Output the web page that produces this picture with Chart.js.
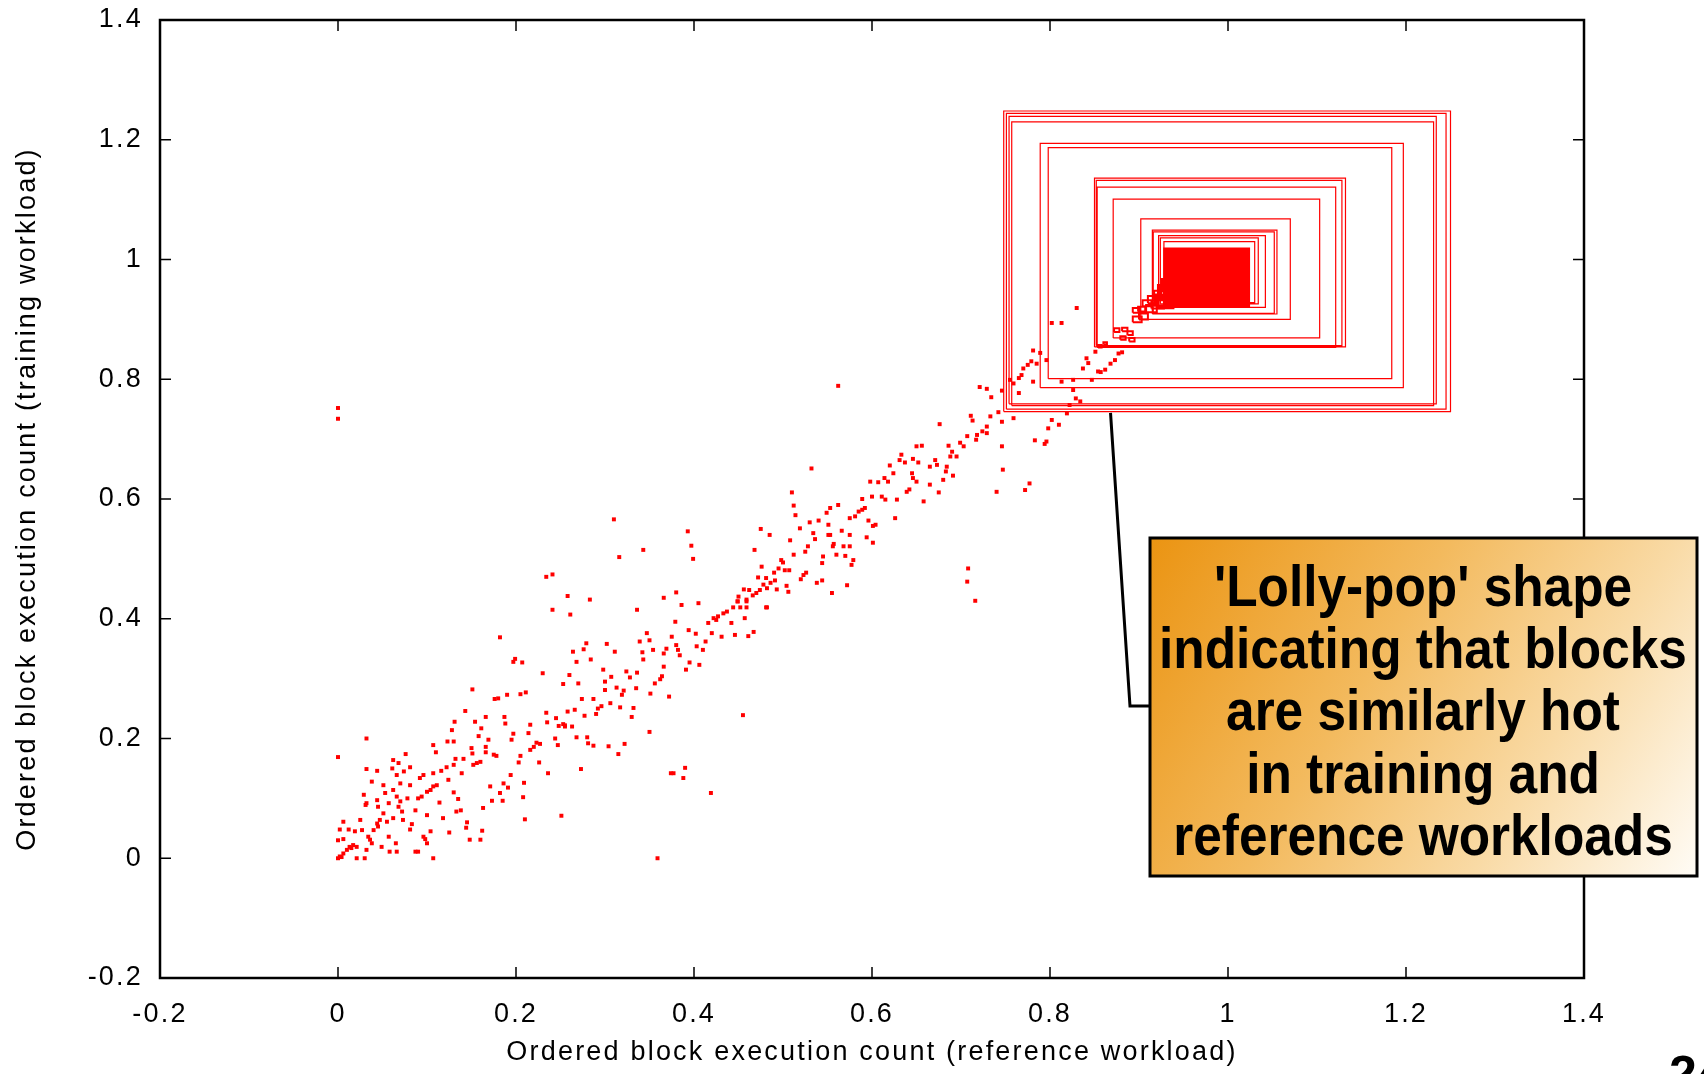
<!DOCTYPE html>
<html>
<head>
<meta charset="utf-8">
<script src="https://cdn.jsdelivr.net/npm/chart.js@4.4.1/dist/chart.umd.min.js"></script>
<style>
html, body { margin: 0; padding: 0; background: #fff; overflow: hidden; }
</style>
</head>
<body>
<canvas id="chart" width="1704" height="1074"></canvas>
<script>
// axes
const xTicks = [-0.2, 0, 0.2, 0.4, 0.6, 0.8, 1, 1.2, 1.4];
const yTicks = [-0.2, 0, 0.2, 0.4, 0.6, 0.8, 1, 1.2, 1.4];
const xTickLabels = ['-0.2', '0', '0.2', '0.4', '0.6', '0.8', '1', '1.2', '1.4'];
const yTickLabels = ['-0.2', '0', '0.2', '0.4', '0.6', '0.8', '1', '1.2', '1.4'];
const xTitle = 'Ordered block execution count (reference workload)';
const yTitle = 'Ordered block execution count (training workload)';

// [reference, training] per block
const blockPoints = [
  [0.002,0.003],[0.006,0.008],[0,0],[0.004,0.002],[0.01,0.014],[0.013,0.019],[0.017,0.022],[0.021,0.019],[0.015,0.017],
  [0.006,0.032],[0,0.03],[0.002,0.048],[0.006,0.061],[0.012,0.048],[0,0.169],
  [0.019,0.045],[0.025,0.064],[0.027,0.047],[0.031,0.089],[0.032,0.092],[0.029,0.106],[0.032,0.2],[0.032,0.014],[0.03,0],[0.021,0],
  [0.034,0.036],[0.036,0.031],[0.038,0.025],[0.04,0.047],[0.044,0.058],[0.047,0.064],[0.045,0.053],[0.044,0.097],[0.045,0.086],[0.044,0.146],[0.032,0.149],[0.038,0.128],
  [0.051,0.122],[0.053,0.109],[0.057,0.092],[0.051,0.075],[0.055,0.061],[0.057,0.036],[0.049,0.019],[0.058,0.011],[0.066,0.011],[0.065,0.025],
  [0.062,0.164],[0.068,0.159],[0.061,0.15],[0.066,0.139],[0.07,0.125],[0.062,0.114],[0.066,0.103],[0.07,0.095],[0.068,0.086],[0.072,0.078],[0.073,0.064],[0.062,0.067],
  [0.076,0.174],[0.074,0.145],[0.081,0.152],[0.081,0.122],[0.078,0.1],[0.081,0.048],[0.083,0.057],[0.087,0.08],[0.087,0.011],[0.09,0.011],
  [0.092,0.134],[0.096,0.139],[0.09,0.1],[0.094,0.103],[0.1,0.072],[0.096,0.036],[0.098,0.032],[0.1,0.025],[0.104,0.045],[0.107,0],[0.1,0.111],[0.104,0.114],[0.107,0.12],[0.111,0.122],
  [0.107,0.142],[0.107,0.189],[0.11,0.177],[0.114,0.093],[0.116,0.146],[0.118,0.067],[0.122,0.152],[0.124,0.131],[0.125,0.043],[0.123,0.195],[0.13,0.195],[0.128,0.214],[0.131,0.228],
  [0.13,0.156],[0.132,0.166],[0.13,0.11],[0.135,0.099],[0.133,0.078],[0.138,0.08],[0.141,0.166],[0.139,0.142],[0.143,0.246],[0.145,0.06],[0.144,0.051],[0.148,0.031],[0.151,0.282],[0.15,0.184],[0.151,0.175],[0.152,0.156],[0.156,0.159],[0.16,0.161],[0.16,0.031],[0.162,0.046],
  [0.154,0.228],[0.161,0.217],[0.158,0.204],[0.166,0.236],[0.166,0.186],[0.166,0.177],[0.169,0.198],[0.163,0.084],[0.171,0.12],[0.173,0.096],[0.175,0.173],[0.178,0.171],[0.176,0.266],[0.18,0.267],[0.182,0.369],[0.182,0.109],[0.185,0.096],[0.186,0.125],[0.187,0.236],[0.188,0.225],[0.19,0.273],[0.191,0.118],
  [0.194,0.139],[0.195,0.198],[0.197,0.208],[0.197,0.328],[0.203,0.16],[0.205,0.171],[0.205,0.274],[0.207,0.327],[0.208,0.102],[0.209,0.126],[0.21,0.065],[0.211,0.277],[0.214,0.209],[0.216,0.223],[0.216,0.181],[0.22,0.186],[0.223,0.193],[0.227,0.191],[0.226,0.16],[0.23,0.309],[0.234,0.243],[0.235,0.227],[0.236,0.142],[0.245,0.234],
  [0.244,0.2],[0.247,0.189],[0.248,0.221],[0.251,0.071],[0.253,0.224],[0.255,0.222],[0.253,0.291],[0.255,0.22],[0.258,0.245],[0.26,0.306],[0.263,0.22],[0.264,0.345],[0.266,0.248],[0.268,0.328],[0.268,0.202],[0.27,0.292],[0.273,0.149],[0.274,0.266],[0.276,0.349],[0.279,0.359],[0.277,0.238],[0.28,0.202],[0.281,0.192],[0.284,0.332],[0.287,0.266],[0.287,0.188],
  [0.29,0.241],[0.292,0.25],[0.296,0.254],[0.298,0.315],[0.3,0.295],[0.3,0.281],[0.302,0.358],[0.304,0.187],[0.306,0.259],[0.307,0.303],[0.311,0.345],[0.313,0.285],[0.315,0.174],[0.317,0.252],[0.319,0.273],[0.321,0.28],[0.322,0.191],[0.324,0.312],[0.328,0.302],[0.33,0.236],[0.332,0.251],[0.335,0.284],[0.336,0.31],[0.336,0.415],[0.339,0.362],[0.342,0.344],[0.343,0.332],[0.347,0.376],[0.35,0.364],[0.35,0.211],[0.351,0.275],[0.354,0.348],[0.356,0.292],[0.359,0],
  [0.362,0.299],[0.364,0.304],[0.366,0.32],[0.366,0.342],[0.369,0.35],[0.372,0.27],[0.374,0.142],[0.375,0.37],[0.377,0.142],[0.379,0.395],[0.38,0.356],[0.382,0.348],[0.384,0.339],[0.386,0.423],[0.388,0.134],[0.39,0.151],[0.391,0.315],[0.394,0.381],[0.395,0.327],[0.402,0.375],[0.403,0.354],[0.405,0.426],[0.406,0.323],[0.41,0.348],[0.413,0.362],[0.416,0.393],[0.419,0.109],[0.42,0.376],[0.422,0.401],[0.425,0.398],[0.427,0.404],[0.431,0.37],[0.433,0.409],[0.437,0.412],[0.442,0.393],[0.444,0.419],[0.446,0.373],[0.449,0.429],[0.452,0.419],[0.455,0.239],[0.457,0.401],[0.459,0.429],[0.461,0.371],[0.467,0.378],[0.482,0.419],
  [0.241,0.415],[0.261,0.407],[0.199,0.333],[0,0.752],[0,0.734],
  [0.532,0.651],[0.598,0.629],[0.607,0.628],[0.51,0.611],[0.512,0.589],[0.514,0.573],[0.589,0.6],[0.6,0.604],[0.562,0.59],[0.553,0.585],[0.549,0.577],[0.585,0.579],[0.589,0.582],[0.592,0.585],[0.581,0.571],[0.575,0.568],[0.54,0.564],[0.53,0.561],[0.519,0.551],[0.551,0.557],[0.596,0.564],[0.601,0.555],[0.604,0.557],[0.534,0.543],[0.551,0.54],[0.553,0.54],[0.566,0.547],[0.575,0.54],[0.594,0.536],[0.601,0.527],[0.508,0.531],[0.536,0.533],[0.528,0.521],[0.525,0.512],[0.512,0.507],[0.557,0.525],[0.556,0.521],[0.568,0.521],[0.575,0.521],[0.545,0.504],[0.544,0.493],[0.56,0.507],[0.57,0.505],[0.579,0.498],[0.577,0.49],[0.572,0.456],[0.555,0.443],[0.538,0.46],[0.544,0.464],[0.523,0.473],[0.526,0.477],[0.52,0.466],
  [0.485,0.54],[0.475,0.55],[0.468,0.515],[0.498,0.498],[0.5,0.494],[0.495,0.484],[0.502,0.481],[0.507,0.481],[0.49,0.477],[0.476,0.487],[0.481,0.468],[0.472,0.469],[0.491,0.464],[0.486,0.46],[0.478,0.457],[0.482,0.451],[0.474,0.448],[0.493,0.449],[0.504,0.455],[0.506,0.445],[0.47,0.443],[0.466,0.439],[0.462,0.448],[0.45,0.437],[0.456,0.449],[0.449,0.429],[0.459,0.432],[0.481,0.419],[0.459,0.419],
  [0.31,0.566],[0.316,0.503],[0.343,0.515],[0.393,0.546],[0.397,0.522],[0.399,0.5],[0.234,0.47],[0.241,0.474],[0.258,0.438],[0.283,0.432],[0.38,0.444],[0.366,0.435],
  [0.562,0.789],[0.676,0.725],[0.713,0.731],[0.711,0.739],[0.721,0.787],[0.729,0.784],[0.734,0.77],[0.733,0.738],[0.742,0.745],[0.746,0.781],[0.755,0.799],[0.759,0.793],[0.765,0.802],[0.768,0.807],[0.77,0.818],[0.775,0.824],[0.779,0.83],[0.781,0.848],[0.789,0.844],[0.785,0.826],[0.781,0.796],[0.765,0.777],[0.802,0.894],[0.813,0.894],[0.83,0.919],[0.796,0.832],[0.813,0.796],[0.826,0.799],[0.826,0.782],[0.829,0.768],[0.822,0.757],[0.834,0.763],[0.819,0.743],[0.841,0.835],[0.843,0.827],[0.837,0.818],[0.851,0.846],[0.854,0.813],[0.847,0.799],
  [0.759,0.735],[0.746,0.729],[0.729,0.721],[0.724,0.713],[0.729,0.71],[0.718,0.707],[0.707,0.705],[0.717,0.699],[0.703,0.688],[0.699,0.694],[0.802,0.732],[0.798,0.718],[0.81,0.724],[0.796,0.696],[0.794,0.692],[0.783,0.698],[0.746,0.688],[0.747,0.649],[0.777,0.626],[0.772,0.615],[0.74,0.612],[0.708,0.484],[0.707,0.462],[0.716,0.43],
  [0.686,0.689],[0.69,0.679],[0.695,0.671],[0.688,0.671],[0.691,0.639],[0.683,0.646],[0.684,0.654],[0.68,0.632],[0.671,0.665],[0.675,0.611],[0.665,0.624],[0.658,0.596],[0.65,0.688],[0.656,0.689],[0.646,0.667],[0.652,0.661],[0.633,0.674],[0.631,0.665],[0.637,0.661],[0.62,0.656],[0.624,0.643],[0.618,0.629],[0.645,0.643],[0.646,0.635],[0.65,0.629],[0.642,0.616],[0.639,0.612],[0.665,0.654],[0.673,0.657],[0.614,0.635],[0.611,0.604],[0.615,0.599],[0.628,0.599],[0.626,0.568],
  [0.877,0.843],[0.881,0.845],[0.873,0.832],[0.868,0.826],[0.862,0.816],[0.857,0.812]
];

// hottest blocks drawn as squares: centre and half size, in data units
const ringX = [0.999, 0.998, 0.994, 0.994, 0.993, 0.991, 0.991, 0.990, 0.987, 0.987, 0.986, 0.985, 0.984, 0.982, 0.979, 0.979];
const ringY = [0.997, 0.997, 0.999, 0.993, 0.990, 0.994, 0.995, 0.994, 0.987, 0.985, 0.984, 0.979, 0.978, 0.980, 0.981, 0.979];
const ringHalf = [0.251, 0.247, 0.240, 0.237, 0.204, 0.193, 0.141, 0.138, 0.134, 0.116, 0.084, 0.070, 0.068, 0.060, 0.055, 0.051];

const coreX = [0.976, 0.975, 0.974, 0.973, 0.972, 0.971, 0.970, 0.968, 0.967, 0.965, 0.963, 0.961, 0.959, 0.957, 0.955, 0.952, 0.950, 0.947, 0.944, 0.941, 0.940, 0.939, 0.937, 0.931, 0.928];
const coreY = [0.970, 0.969, 0.968, 0.967, 0.966, 0.965, 0.964, 0.963, 0.962, 0.960, 0.958, 0.956, 0.954, 0.952, 0.950, 0.948, 0.946, 0.944, 0.941, 0.939, 0.938, 0.937, 0.955, 0.947, 0.930];
const coreHalf = [0.046, 0.044, 0.042, 0.040, 0.038, 0.036, 0.034, 0.032, 0.030, 0.028, 0.026, 0.024, 0.022, 0.020, 0.018, 0.016, 0.014, 0.012, 0.010, 0.008, 0.005, 0.003, 0.010, 0.008, 0.009];

const stickX = [0.924, 0.921, 0.916, 0.914, 0.909, 0.905, 0.903, 0.898, 0.897, 0.892, 0.890, 0.884, 0.882, 0.875, 0.862, 0.856];
const stickY = [0.941, 0.925, 0.933, 0.918, 0.927, 0.905, 0.917, 0.900, 0.915, 0.866, 0.877, 0.883, 0.869, 0.882, 0.860, 0.855];
const stickHalf = [0.007, 0.007, 0.006, 0.006, 0.005, 0.005, 0.004, 0.005, 0.004, 0.003, 0.003, 0.003, 0.003, 0.003, 0.002, 0.002];

const calloutLines = ["'Lolly-pop' shape", 'indicating that blocks', 'are similarly hot', 'in training and', 'reference workloads'];
const slideNumber = '24';

// square outlines as one path, broken by null points
function squarePath(xs, ys, hs) {
  const path = [];
  for (let i = 0; i < xs.length; i++) {
    const cx = xs[i], cy = ys[i], h = hs[i];
    path.push({x: cx - h, y: cy - h}, {x: cx + h, y: cy - h}, {x: cx + h, y: cy + h}, {x: cx - h, y: cy + h}, {x: cx - h, y: cy - h});
    path.push({x: cx, y: null});
  }
  return path;
}

function squareSet(label, path, width) {
  return {
    type: 'line',
    label: label,
    data: path,
    borderColor: '#ff0000',
    borderWidth: width,
    pointRadius: 0,
    fill: false,
    spanGaps: false,
    tension: 0
  };
}

Chart.defaults.font.family = '"Liberation Sans", Arial, sans-serif';
Chart.defaults.color = '#000';

// gnuplot style: spaced out axis text (canvas resize resets it, so set it each time)
const spacingPlugin = {
  id: 'spacing',
  beforeUpdate(chart) { chart.ctx.letterSpacing = '2.2px'; },
  beforeLayout(chart) { chart.ctx.letterSpacing = '2.2px'; },
  beforeDraw(chart) { chart.ctx.letterSpacing = '2.2px'; }
};

const framePlugin = {
  id: 'frame',
  afterDatasetsDraw(chart) {
    const ctx = chart.ctx;
    const a = chart.chartArea;
    const x = chart.scales.x, y = chart.scales.y;
    const tl = 11;
    ctx.save();
    ctx.strokeStyle = '#000';
    ctx.lineWidth = 1.5;
    ctx.beginPath();
    xTicks.forEach(function (v) {
      const px = x.getPixelForValue(v);
      ctx.moveTo(px, a.bottom); ctx.lineTo(px, a.bottom - tl);
      ctx.moveTo(px, a.top); ctx.lineTo(px, a.top + tl);
    });
    yTicks.forEach(function (v) {
      const py = y.getPixelForValue(v);
      ctx.moveTo(a.left, py); ctx.lineTo(a.left + tl, py);
      ctx.moveTo(a.right, py); ctx.lineTo(a.right - tl, py);
    });
    ctx.stroke();
    ctx.lineWidth = 2.5;
    ctx.strokeRect(a.left, a.top, a.right - a.left, a.bottom - a.top);
    ctx.restore();
  }
};

const calloutPlugin = {
  id: 'callout',
  afterDraw(chart) {
    const ctx = chart.ctx;
    const x = chart.scales.x, y = chart.scales.y;
    const bx = 1150, by = 538, bw = 547, bh = 338;

    ctx.save();
    ctx.letterSpacing = '0px';
    // leader line from the outer square down to the box
    ctx.strokeStyle = '#000';
    ctx.lineWidth = 3;
    ctx.beginPath();
    ctx.moveTo(x.getPixelForValue(0.868), y.getPixelForValue(0.744));
    ctx.lineTo(1130, 706);
    ctx.lineTo(bx, 706);
    ctx.stroke();

    const g = ctx.createLinearGradient(bx, by, bx + bw, by + bh);
    g.addColorStop(0, 'rgb(235,148,18)');
    g.addColorStop(0.4, 'rgb(243,186,94)');
    g.addColorStop(0.7, 'rgb(249,218,165)');
    g.addColorStop(1, 'rgb(255,252,246)');
    ctx.fillStyle = g;
    ctx.fillRect(bx, by, bw, bh);
    ctx.lineWidth = 3;
    ctx.strokeRect(bx, by, bw, bh);

    ctx.fillStyle = '#000';
    ctx.font = 'bold 57px "Liberation Sans Narrow", "Liberation Sans", Arial, sans-serif';
    ctx.textAlign = 'center';
    ctx.textBaseline = 'alphabetic';
    const targets = [419, 529, 394, 354, 497];
    let tw = 0, mw = 0;
    calloutLines.forEach(function (t, i) { tw += targets[i]; mw += ctx.measureText(t).width; });
    const sx = tw / mw;
    const baselines = [606, 668, 730, 793, 855];
    calloutLines.forEach(function (t, i) {
      ctx.save();
      ctx.translate(1423, baselines[i]);
      ctx.scale(sx, 1);
      ctx.fillText(t, 0, 0);
      ctx.restore();
    });

    ctx.font = 'bold 50px "Liberation Sans", Arial, sans-serif';
    ctx.textAlign = 'left';
    ctx.fillText(slideNumber, 1669, 1091);
    ctx.restore();
  }
};

new Chart(document.getElementById('chart'), {
  type: 'scatter',
  data: {
    datasets: [
      squareSet('hot blocks', squarePath(ringX, ringY, ringHalf), 1.2),
      squareSet('hottest blocks', squarePath(coreX, coreY, coreHalf), 5),
      squareSet('warm blocks', squarePath(stickX, stickY, stickHalf), 2),
      {
        label: 'blocks',
        data: blockPoints.map(function (p) { return {x: p[0], y: p[1]}; }),
        pointStyle: 'rect',
        pointRadius: 2.8,
        pointBorderWidth: 0,
        pointBackgroundColor: '#ff0000',
        showLine: false
      }
    ]
  },
  options: {
    responsive: false,
    animation: false,
    layout: { padding: { top: 20, right: 120, left: 0, bottom: 0 } },
    plugins: { legend: { display: false }, tooltip: { enabled: false } },
    scales: {
      x: {
        type: 'linear',
        min: -0.2,
        max: 1.4,
        afterBuildTicks: function (s) { s.ticks = xTicks.map(function (v) { return {value: v}; }); },
        afterFit: function (s) { s.height = 96; },
        grid: { display: false },
        border: { display: false },
        ticks: {
          autoSkip: false,
          maxRotation: 0,
          padding: 12,
          font: { size: 27 },
          callback: function (v, i) { return xTickLabels[i]; }
        },
        title: { display: true, text: xTitle, font: { size: 27 }, padding: { top: 0, bottom: 5 } }
      },
      y: {
        type: 'linear',
        min: -0.2,
        max: 1.4,
        afterBuildTicks: function (s) { s.ticks = yTicks.map(function (v) { return {value: v}; }); },
        afterFit: function (s) { s.width = 160; s.paddingTop = 0; s.paddingBottom = 0; },
        grid: { display: false },
        border: { display: false },
        ticks: {
          autoSkip: false,
          padding: 9,
          font: { size: 27 },
          callback: function (v, i) { return yTickLabels[i]; }
        },
        title: { display: true, text: yTitle, font: { size: 27 }, padding: { top: 11, bottom: 0 } }
      }
    }
  },
  plugins: [spacingPlugin, framePlugin, calloutPlugin]
});
</script>
</body>
</html>
